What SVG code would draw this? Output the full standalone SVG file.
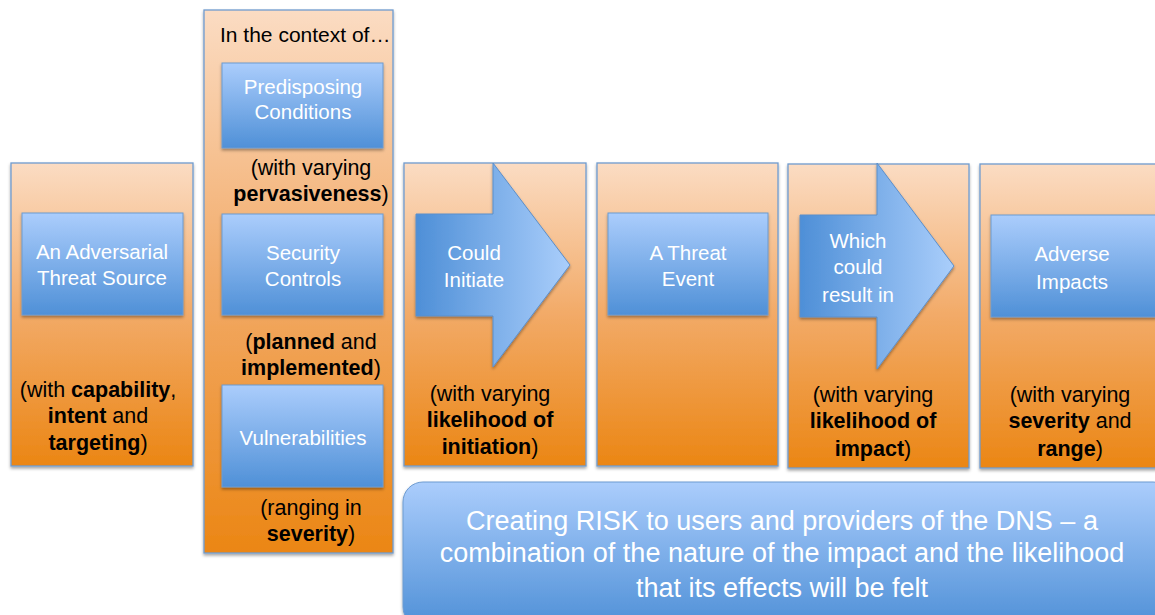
<svg xmlns="http://www.w3.org/2000/svg" width="1155" height="615" viewBox="0 0 1155 615">
<defs>
<linearGradient id="og" x1="0" y1="0" x2="0" y2="1"><stop offset="0" stop-color="#fbdcc3"/><stop offset="0.5" stop-color="#f2aa67"/><stop offset="1" stop-color="#eb8614"/></linearGradient>
<linearGradient id="bg" x1="0" y1="0" x2="0" y2="1"><stop offset="0" stop-color="#abcdfc"/><stop offset="1" stop-color="#4f90d7"/></linearGradient>
<linearGradient id="ag" x1="0" y1="0" x2="1" y2="0"><stop offset="0" stop-color="#4e8fd7"/><stop offset="1" stop-color="#aacefb"/></linearGradient>
<filter id="sh" x="-10%" y="-10%" width="120%" height="130%"><feDropShadow dx="0" dy="2" stdDeviation="1.5" flood-color="#000" flood-opacity="0.35"/></filter>
</defs>
<style>
.panel{fill:url(#og);stroke:#6f9bcf;stroke-width:1.3;filter:url(#sh)}
.box{fill:url(#bg);stroke:#6d9bd0;stroke-width:1;filter:url(#sh)}
.arrow{fill:url(#ag);stroke:#5b8fcb;stroke-width:1;filter:url(#sh)}
text{font-family:"Liberation Sans",Arial,sans-serif}
.w{fill:#ffffff;font-size:20.5px;text-anchor:middle}
.k{fill:#000000;font-size:21.5px;text-anchor:middle}
.b{font-weight:bold}
.big{fill:#ffffff;font-size:27px;text-anchor:middle}
</style>
<rect width="1155" height="615" fill="#ffffff"/>

<g id="source">
<rect class="panel" x="11" y="163" width="182" height="303"/>
<rect class="box" x="22" y="213" width="161" height="102"/>
<text class="w" x="102" y="259">An Adversarial</text>
<text class="w" x="102" y="285">Threat Source</text>
<text class="k" x="98" y="397">(with <tspan class="b">capability</tspan>,</text>
<text class="k" x="98" y="423"><tspan class="b">intent</tspan> and</text>
<text class="k" x="98" y="450"><tspan class="b">targeting</tspan>)</text>
</g>

<g id="context">
<rect class="panel" x="204" y="10" width="189" height="543"/>
<text x="220" y="42" style="font-size:21px;fill:#000">In the context of…</text>
<rect class="box" x="222" y="63" width="161" height="85"/>
<text class="w" x="303" y="94">Predisposing</text>
<text class="w" x="303" y="119">Conditions</text>
<text class="k" x="311" y="175">(with varying</text>
<text class="k" x="311" y="201"><tspan class="b">pervasiveness</tspan>)</text>
<rect class="box" x="222" y="214" width="161" height="101"/>
<text class="w" x="303" y="260">Security</text>
<text class="w" x="303" y="286">Controls</text>
<text class="k" x="311" y="349">(<tspan class="b">planned</tspan> and</text>
<text class="k" x="311" y="375"><tspan class="b">implemented</tspan>)</text>
<rect class="box" x="222" y="385" width="161" height="102"/>
<text class="w" x="303" y="445">Vulnerabilities</text>
<text class="k" x="311" y="515">(ranging in</text>
<text class="k" x="311" y="541"><tspan class="b">severity</tspan>)</text>
</g>

<g id="initiate">
<rect class="panel" x="404" y="163" width="182" height="303"/>
<path class="arrow" d="M416,214 H493 V163 L570,265 L493,367 V316 H416 Z"/>
<text class="w" x="474" y="260">Could</text>
<text class="w" x="474" y="287">Initiate</text>
<text class="k" x="490" y="401">(with varying</text>
<text class="k" x="490" y="427"><tspan class="b">likelihood of</tspan></text>
<text class="k" x="490" y="454"><tspan class="b">initiation</tspan>)</text>
</g>

<g id="event">
<rect class="panel" x="597" y="163" width="181" height="303"/>
<rect class="box" x="608" y="213" width="160" height="102"/>
<text class="w" x="688" y="260">A Threat</text>
<text class="w" x="688" y="286">Event</text>
</g>

<g id="result">
<rect class="panel" x="788" y="164" width="181" height="304"/>
<path class="arrow" d="M800,215 H877 V163 L954,266 L877,369 V317 H800 Z"/>
<text class="w" x="858" y="248">Which</text>
<text class="w" x="858" y="274">could</text>
<text class="w" x="858" y="302">result in</text>
<text class="k" x="873" y="402">(with varying</text>
<text class="k" x="873" y="428"><tspan class="b">likelihood of</tspan></text>
<text class="k" x="873" y="456"><tspan class="b">impact</tspan>)</text>
</g>

<g id="impacts">
<rect class="panel" x="980" y="164" width="180" height="304"/>
<rect class="box" x="991" y="215" width="165" height="102"/>
<text class="w" x="1072" y="261">Adverse</text>
<text class="w" x="1072" y="289">Impacts</text>
<text class="k" x="1070" y="402">(with varying</text>
<text class="k" x="1070" y="428"><tspan class="b">severity</tspan> and</text>
<text class="k" x="1070" y="456"><tspan class="b">range</tspan>)</text>
</g>

<g id="risk">
<rect class="box" x="403" y="482" width="770" height="145" rx="20" ry="20"/>
<text class="big" x="782" y="530">Creating RISK to users and providers of the DNS – a</text>
<text class="big" x="782" y="562">combination of the nature of the impact and the likelihood</text>
<text class="big" x="782" y="597">that its effects will be felt</text>
</g>

<g id="connectors"></g>
</svg>
